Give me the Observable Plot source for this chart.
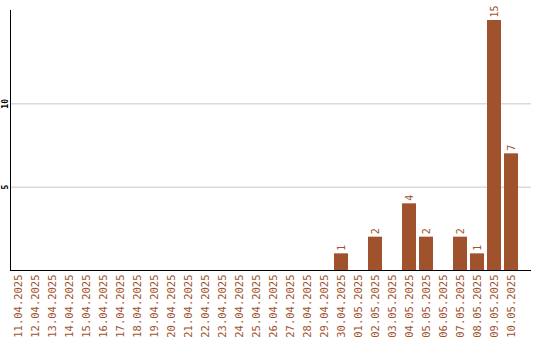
<!DOCTYPE html>
<html>
<head>
<meta charset="utf-8">
<script src="https://cdn.jsdelivr.net/npm/d3@7"></script>
<script src="https://cdn.jsdelivr.net/npm/@observablehq/plot@0.6"></script>
<style>
  body { margin: 0; background: #fff; }
</style>
</head>
<body>
<div id="chart"></div>
<script>
// Daily counts, 11.04.2025 – 10.05.2025
const dates = [
  "11.04.2025", "12.04.2025", "13.04.2025", "14.04.2025", "15.04.2025",
  "16.04.2025", "17.04.2025", "18.04.2025", "19.04.2025", "20.04.2025",
  "21.04.2025", "22.04.2025", "23.04.2025", "24.04.2025", "25.04.2025",
  "26.04.2025", "27.04.2025", "28.04.2025", "29.04.2025", "30.04.2025",
  "01.05.2025", "02.05.2025", "03.05.2025", "04.05.2025", "05.05.2025",
  "06.05.2025", "07.05.2025", "08.05.2025", "09.05.2025", "10.05.2025"
];
const counts = [
  0, 0, 0, 0, 0,
  0, 0, 0, 0, 0,
  0, 0, 0, 0, 0,
  0, 0, 0, 0, 1,
  0, 2, 0, 4, 2,
  0, 2, 1, 15, 7
];
const yTicks = [5, 10];

const data = dates.map((date, i) => ({date, count: counts[i]}));
const barColor = "#a0522d";

const chart = Plot.plot({
  width: 540,
  height: 340,
  marginTop: 10,
  marginRight: 9,
  marginBottom: 70,
  marginLeft: 10,
  style: {fontFamily: "'DejaVu Sans Mono', monospace", background: "#fff", overflow: "visible"},
  x: {domain: dates, range: [8, 520], paddingInner: 0.18, paddingOuter: 0.09, align: 0.5},
  y: {domain: [0, 15.6]},
  marks: [
    Plot.gridY(yTicks, {stroke: "#c8c8c8", strokeOpacity: 1}),
    Plot.barY(data, {x: "date", y: "count", fill: barColor}),
    Plot.text(data.filter(d => d.count > 0), {
      x: "date", y: "count", text: d => String(d.count),
      rotate: -90, textAnchor: "start", lineAnchor: "middle",
      dy: -3, fill: barColor, fontSize: 10
    }),
    Plot.axisX({
      tickRotate: -90, tickSize: 0, tickPadding: 4,
      fill: barColor, fontSize: 10.5, label: null
    }),
    Plot.axisY(yTicks, {
      tickRotate: -90, tickSize: 0, tickPadding: 3,
      fontSize: 8, fontWeight: "bold", fill: "#000", label: null
    }),
    Plot.frame({anchor: "left", stroke: "#000"}),
    Plot.ruleY([0], {stroke: "#000"})
  ]
});

document.getElementById("chart").appendChild(chart);
</script>
</body>
</html>
